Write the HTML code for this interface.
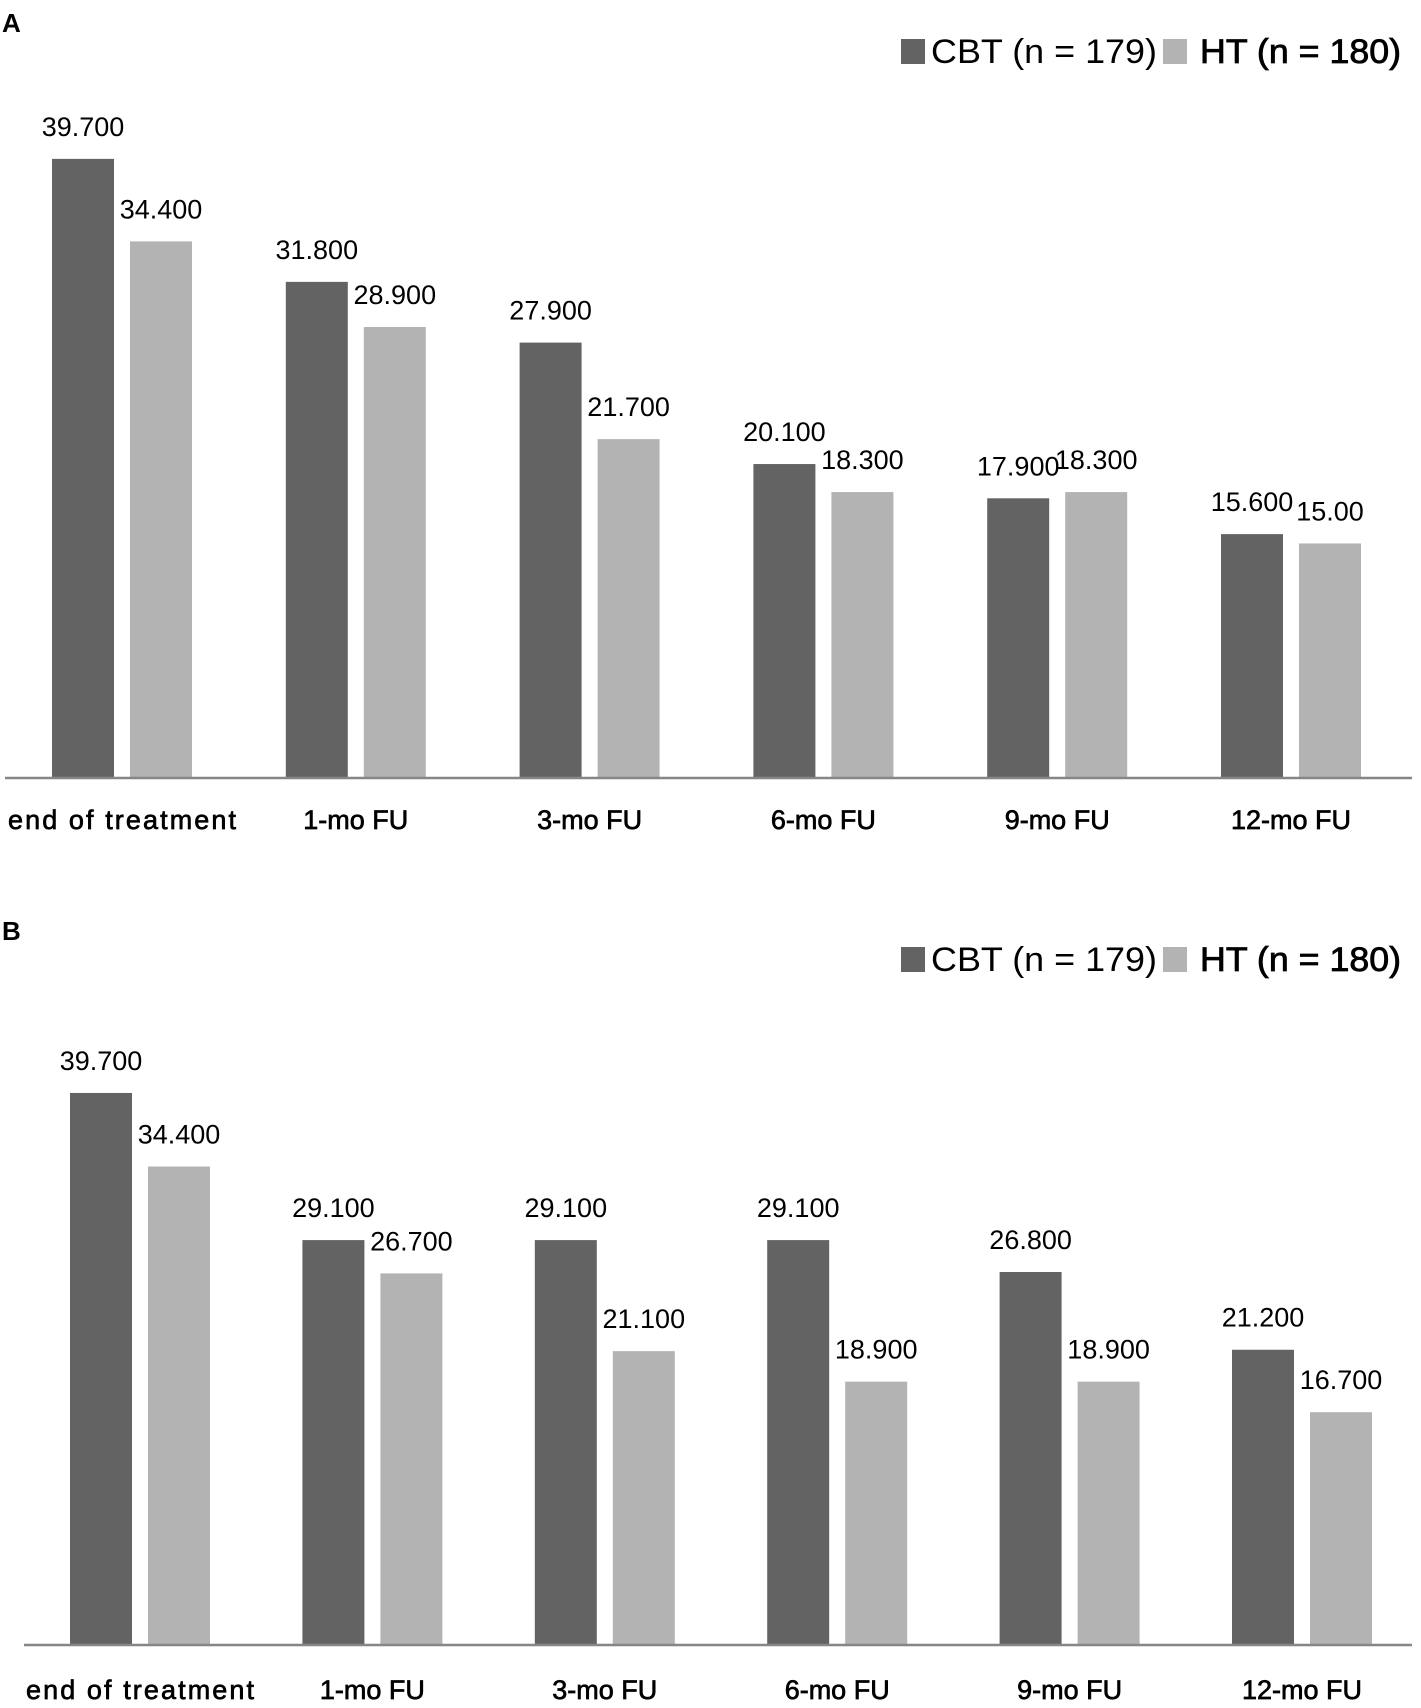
<!DOCTYPE html>
<html><head><meta charset="utf-8"><style>
html,body{margin:0;padding:0;background:#fff;}
svg{display:block;font-family:"Liberation Sans",sans-serif;}
</style></head><body>
<svg id="chart" width="1421" height="1708" viewBox="0 0 1421 1708"></svg>
<script>
const categories = ["end of treatment","1-mo FU","3-mo FU","6-mo FU","9-mo FU","12-mo FU"];
const cbtA = [39.7,31.8,27.9,20.1,17.9,15.6];
const htA = [34.4,28.9,21.7,18.3,18.3,15.0];
const cbtLabelsA = ["39.700","31.800","27.900","20.100","17.900","15.600"];
const htLabelsA = ["34.400","28.900","21.700","18.300","18.300","15.00"];
const cbtB = [39.7,29.1,29.1,29.1,26.8,21.2];
const htB = [34.4,26.7,21.1,18.9,18.9,16.7];
const cbtLabelsB = ["39.700","29.100","29.100","29.100","26.800","21.200"];
const htLabelsB = ["34.400","26.700","21.100","18.900","18.900","16.700"];

const NS="http://www.w3.org/2000/svg";
const svg=document.getElementById('chart');
function mk(tag,attrs,parent){const e=document.createElementNS(NS,tag);for(const k in attrs)e.setAttribute(k,attrs[k]);(parent||svg).appendChild(e);return e;}

function panel(cfg){
  const g=mk('g',{});
  
  
  const t=mk('text',{x:cfg.letterX,y:cfg.letterY,'font-size':26,'font-weight':'bold',fill:'#000'},g);
  t.textContent=cfg.id.toUpperCase();
  
  
  const ly=cfg.legendY;
  const s1=mk('rect',{x:901,y:ly,width:24,height:25,fill:'#636363'},g);
  
  
  const l1=mk('text',{x:931,y:ly+24,'font-size':34,fill:'#000',textLength:226,lengthAdjust:'spacingAndGlyphs'},g);
  l1.textContent='CBT (n = 179)';
  
  
  const s2=mk('rect',{x:1163,y:ly,width:24,height:25,fill:'#b3b3b3'},g);
  
  
  const l2=mk('text',{x:1200,y:ly+24,'font-size':34,fill:'#000',textLength:201,lengthAdjust:'spacingAndGlyphs',stroke:'#000','stroke-width':0.8},g);
  l2.textContent='HT (n = 180)';
  
  
  const yScale=v=>cfg.base-v*cfg.unit;
  const xGroup=i=>cfg.x0+i*cfg.step;
  const bw=62, gap=78;
  categories.forEach((c,i)=>{
    const x1=xGroup(i), x2=x1+gap;
    const b1=mk('rect',{x:x1,y:yScale(cfg.cbt[i]),width:bw,height:cfg.base-yScale(cfg.cbt[i]),fill:'#636363'},g);
    
    
    const b2=mk('rect',{x:x2,y:yScale(cfg.ht[i]),width:bw,height:cfg.base-yScale(cfg.ht[i]),fill:'#b3b3b3'},g);
    
    
    const v1=mk('text',{x:x1+bw/2,y:yScale(cfg.cbt[i])-23,'font-size':27,'text-anchor':'middle',fill:'#000'},g);
    v1.textContent=cfg.cbtL[i];
    
    
    const v2=mk('text',{x:x2+bw/2,y:yScale(cfg.ht[i])-23,'font-size':27,'text-anchor':'middle',fill:'#000'},g);
    v2.textContent=cfg.htL[i];
    
    
    const cl=mk('text',{x:x1+(gap+bw)/2,y:cfg.labelY,'font-size':27,'text-anchor':'middle',fill:'#000',stroke:'#000','stroke-width':0.7},g);
    cl.textContent=c;
    if(i===0){cl.setAttribute('textLength',228);}
    
    
  });
  const ax=mk('line',{x1:cfg.axX1,x2:1412,y1:cfg.base+1,y2:cfg.base+1,stroke:'#868686','stroke-width':2.5},g);
  
  
}
panel({id:'a',letterX:2,letterY:32,legendY:39,cbt:cbtA,ht:htA,cbtL:cbtLabelsA,htL:htLabelsA,x0:52,step:233.8,base:777,unit:15.57,labelY:829,axX1:5});
panel({id:'b',letterX:2,letterY:940,legendY:947,cbt:cbtB,ht:htB,cbtL:cbtLabelsB,htL:htLabelsB,x0:70,step:232.4,base:1644,unit:13.88,labelY:1699,axX1:24});
</script>
</body></html>
